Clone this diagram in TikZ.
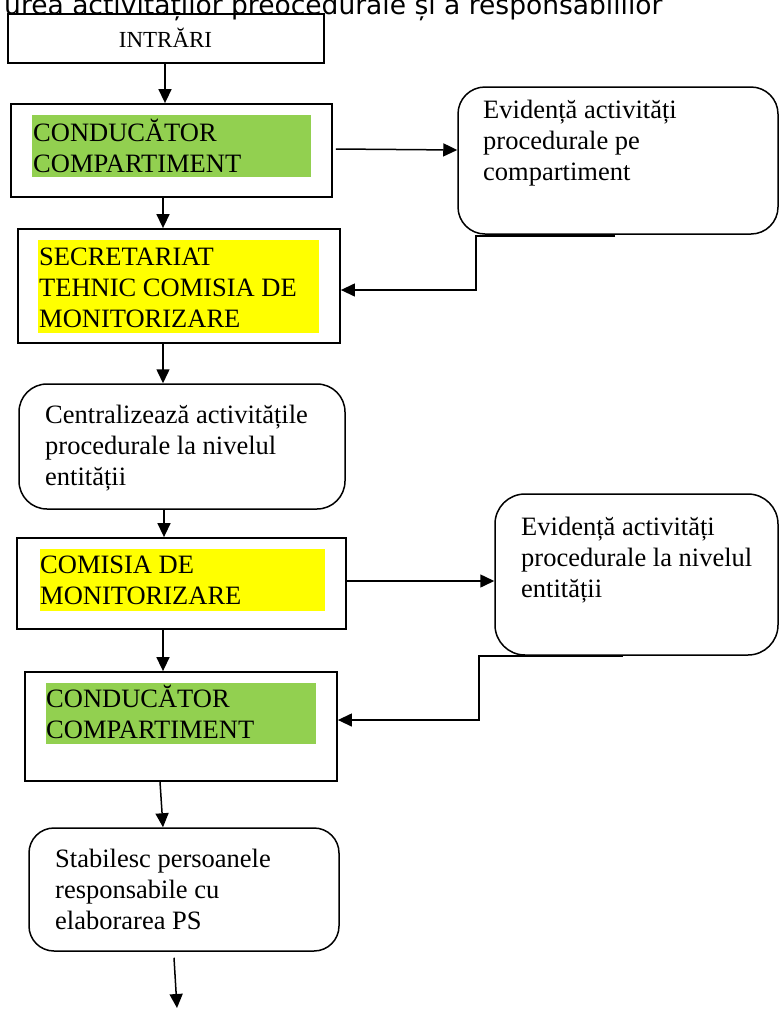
\documentclass[tikz,border=0pt]{standalone}
\usepackage{fontspec}
\setmainfont{Liberation Serif}
\newfontfamily\titlefont{DejaVu Sans}
\usetikzlibrary{arrows.meta}
\definecolor{hlgreen}{HTML}{92D050}
\definecolor{hlyellow}{HTML}{FFFF00}
\tikzset{
  box/.style={draw, line width=1.8pt, rectangle, inner sep=0pt},
  rbox/.style={draw, line width=1.5pt, rectangle, rounded corners=#1, inner sep=0pt},
  hl/.style={fill=#1, draw=none, inner sep=0pt},
  lbl/.style={anchor=base west, align=left, inner sep=0pt, font=\fontsize{26.5}{30.8}\selectfont},
  arr/.style={line width=1.5pt, -{Triangle[length=14pt,width=13pt]}},
}
\begin{document}
\begin{tikzpicture}[x=1pt,y=-1pt]
\useasboundingbox (0,0) rectangle (779,1010);
% title (cut off at the top of the page)
\node[anchor=base west, inner sep=0pt, font=\titlefont\fontsize{26.5}{30}\selectfont] (title) at (4,14) {urea activităților preocedurale și a responsabililor};

% main boxes (text nodes anchored at the baseline of their last line)
\node[box, minimum width=316pt, minimum height=49pt] (in) at (166,38.5) {};
\node[anchor=base, inner sep=0pt, font=\fontsize{23}{26}\selectfont] (intxt) at (165.5,47) {INTRĂRI};

\node[box, minimum width=321pt, minimum height=93pt] (b1) at (171.5,150.5) {};
\node[hl=hlgreen, minimum width=279pt, minimum height=62pt] (g1) at (171.5,146) {};
\node[lbl] (t1) at (33,172) {CONDUCĂTOR\\COMPARTIMENT};

\node[box, minimum width=322pt, minimum height=114pt] (b2) at (179,286) {};
\node[hl=hlyellow, minimum width=281pt, minimum height=93pt] (y1) at (178.5,286.5) {};
\node[lbl] (t2) at (39,327) {SECRETARIAT\\TEHNIC COMISIA DE\\MONITORIZARE};

\node[rbox=28pt, minimum width=326pt, minimum height=125pt] (c1) at (182,446.5) {};
\node[lbl] (t3) at (45,485) {Centralizează activitățile\\procedurale la nivelul\\entității};

\node[box, minimum width=329pt, minimum height=91pt] (b3) at (181.5,583.5) {};
\node[hl=hlyellow, minimum width=285pt, minimum height=62pt] (y2) at (182.5,580) {};
\node[lbl] (t4) at (40,604) {COMISIA DE\\MONITORIZARE};

\node[box, minimum width=312pt, minimum height=109pt] (b4) at (181,726.5) {};
\node[hl=hlgreen, minimum width=270pt, minimum height=61pt] (g2) at (181,713.5) {};
\node[lbl] (t5) at (46,738) {CONDUCĂTOR\\COMPARTIMENT};

\node[rbox=25pt, minimum width=310pt, minimum height=123pt] (s) at (184,889.5) {};
\node[lbl] (t6) at (55,929) {Stabilesc persoanele\\responsabile cu\\elaborarea PS};

% right boxes
\node[rbox=27pt, minimum width=320pt, minimum height=147pt] (r1) at (618,160.5) {};
\node[lbl] (t7) at (483,180) {Evidență activități\\procedurale pe\\compartiment};

\node[rbox=30pt, minimum width=283pt, minimum height=161pt] (r2) at (636.5,574.5) {};
\node[lbl] (t8) at (521,597) {Evidență activități\\procedurale la nivelul\\entității};

% connectors
\coordinate (fb1) at (615,236);
\coordinate (fb2) at (623,656);
\coordinate (end) at (177,1008);

\draw[arr] (in.south -| 165,0) -- (b1.north -| 165,0);
\draw[arr] (b1.south -| 163,0) -- (b2.north -| 163,0);
\draw[arr] ([xshift=3pt]b1.east |- 0,149) -- (r1.west |- 0,150);
\draw[arr, line width=1.3pt] (fb1) -- (476,236) |- (b2.east |- 0,290);
\draw[arr] (b2.south -| 163,0) -- (c1.north -| 163,0);
\draw[arr] (c1.south -| 164,0) -- (b3.north -| 164,0);
\draw[arr] (b3.east |- 0,581) -- (r2.west |- 0,581);
\draw[arr] (b3.south -| 163,0) -- (b4.north -| 163,0);
\draw[arr, line width=1.3pt] (fb2) -- (479,656) |- (b4.east |- 0,720);
\draw[arr] (b4.south -| 160,0) -- (s.north -| 163,0);
\draw[arr] ([yshift=-6pt]s.south -| 174,0) -- (end);
\end{tikzpicture}
\end{document}
